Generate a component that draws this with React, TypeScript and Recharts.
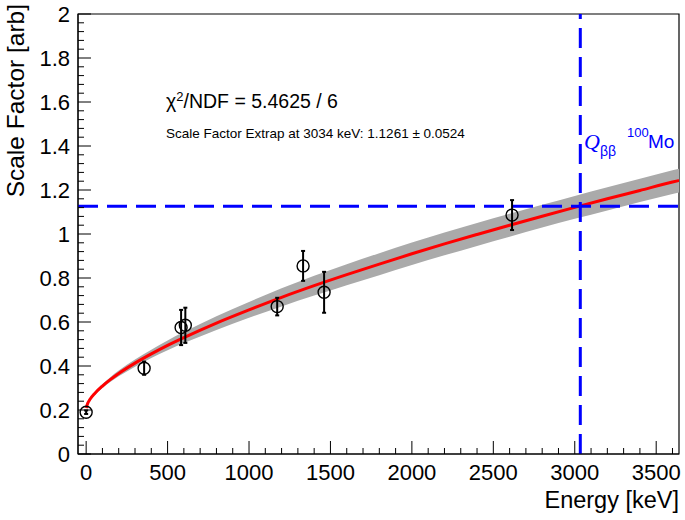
import {
  Area,
  ComposedChart,
  ErrorBar,
  Line,
  ReferenceArea,
  ReferenceLine,
  Scatter,
  XAxis,
  YAxis,
} from "recharts";

// fit curve (energy in keV)
const fitEnergy = [0, 10, 25, 50, 100, 150, 200, 300, 400, 500, 600, 800, 1000, 1200, 1400, 1600, 1800, 2000, 2200, 2400, 2600, 2800, 3000, 3200, 3400, 3600, 3640];
const fitValue = [0.209, 0.231, 0.25, 0.273, 0.309, 0.339, 0.366, 0.413, 0.455, 0.494, 0.529, 0.595, 0.655, 0.712, 0.765, 0.815, 0.863, 0.91, 0.955, 0.998, 1.04, 1.081, 1.121, 1.16, 1.198, 1.236, 1.243];
const bandHalf = [0.002, 0.003, 0.005, 0.007, 0.009, 0.011, 0.013, 0.016, 0.019, 0.022, 0.025, 0.031, 0.036, 0.041, 0.045, 0.048, 0.05, 0.051, 0.052, 0.052, 0.052, 0.052, 0.052, 0.053, 0.053, 0.054, 0.054];

// calibration points
const pointEnergy = [0, 356, 583, 609, 1173, 1332, 1461, 2615];
const pointValue = [0.19, 0.39, 0.575, 0.585, 0.67, 0.855, 0.735, 1.086];
const pointError = [0.008, 0.03, 0.08, 0.08, 0.04, 0.068, 0.093, 0.068];

const qbb = 3034;
const extrap = 1.1261;

const xMajor = [0, 500, 1000, 1500, 2000, 2500, 3000, 3500];
const yMajor = [0, 0.2, 0.4, 0.6, 0.8, 1, 1.2, 1.4, 1.6, 1.8, 2];

const xTicks = Array.from({ length: 37 }, (_, i) => i * 100);
const yTicks = Array.from({ length: 51 }, (_, i) => Math.round(i * 4) / 100);

const W = 685;
const H = 520;
const LEFT = 78;
const TOP = 14;
const RIGHT = 679;
const BOTTOM = 454;
const FONT = "'Liberation Sans', Arial, Helvetica, sans-serif";

const fitData = fitEnergy.map((e, i) => ({
  E: e,
  fit: fitValue[i],
  band: [fitValue[i] - bandHalf[i], fitValue[i] + bandHalf[i]],
}));

const points = pointEnergy.map((e, i) => ({
  E: e,
  y: pointValue[i],
  err: pointError[i],
}));

function XTick({ x, payload }: any) {
  const major = xMajor.includes(payload.value);
  return (
    <g>
      <line x1={x} x2={x} y1={BOTTOM} y2={BOTTOM - (major ? 13 : 6)} stroke="#000" />
      {major ? (
        <text x={x} y={BOTTOM + 26} textAnchor="middle" fontSize={22} fontFamily={FONT} fill="#000">
          {payload.value}
        </text>
      ) : null}
    </g>
  );
}

function YTick({ y, payload }: any) {
  const v = Number(payload.value.toFixed(2));
  const major = yMajor.includes(v);
  return (
    <g>
      <line x1={LEFT} x2={LEFT + (major ? 13 : 6)} y1={y} y2={y} stroke="#000" />
      {major ? (
        <text x={70} y={y} dy="0.36em" textAnchor="end" fontSize={22} fontFamily={FONT} fill="#000">
          {String(v)}
        </text>
      ) : null}
    </g>
  );
}

function OpenCircle({ cx, cy }: any) {
  return <circle cx={cx} cy={cy} r={6} fill="none" stroke="#000" strokeWidth={1.4} />;
}

export default function App() {
  return (
    <div style={{ position: "absolute", left: 0, top: 0, width: W, height: H, background: "#fff" }}>
      <ComposedChart
        width={W}
        height={H}
        data={fitData}
        margin={{ top: TOP, right: W - RIGHT, left: 0, bottom: 0 }}
      >
        <XAxis
          type="number"
          dataKey="E"
          domain={[-50, 3640]}
          ticks={xTicks}
          interval={0}
          tick={<XTick />}
          tickLine={false}
          axisLine={{ stroke: "#000" }}
          height={H - BOTTOM}
          allowDataOverflow
        />
        <YAxis
          type="number"
          domain={[0, 2]}
          ticks={yTicks}
          interval={0}
          tick={<YTick />}
          tickLine={false}
          axisLine={{ stroke: "#000" }}
          width={LEFT}
          allowDataOverflow
        />
        <ReferenceArea x1={-50} x2={3640} y1={0} y2={2} fill="none" stroke="#000" strokeWidth={1.2} />
        <Area
          dataKey="band"
          type="monotone"
          stroke="none"
          fill="#aaaaaa"
          fillOpacity={1}
          isAnimationActive={false}
        />
        <Line
          dataKey="fit"
          type="monotone"
          stroke="#ff0000"
          strokeWidth={3}
          dot={false}
          isAnimationActive={false}
        />
        <ReferenceLine y={extrap} stroke="#0000ff" strokeWidth={3} strokeDasharray="20 9" />
        <ReferenceLine x={qbb} stroke="#0000ff" strokeWidth={3} strokeDasharray="20 9" />
        <Scatter data={points} dataKey="y" shape={<OpenCircle />} isAnimationActive={false}>
          <ErrorBar dataKey="err" direction="y" width={2} stroke="#000" strokeWidth={2} isAnimationActive={false} />
        </Scatter>
      </ComposedChart>
      <svg
        width={W}
        height={H}
        style={{ position: "absolute", left: 0, top: 0, pointerEvents: "none" }}
        fontFamily={FONT}
      >
        <text x={166} y={108} fontSize={19.5} fill="#000">
          χ<tspan fontSize={13} dy={-7}>2</tspan>
          <tspan dy={7}>/NDF = 5.4625 / 6</tspan>
        </text>
        <text x={166} y={138} fontSize={13.5} fill="#000">
          Scale Factor Extrap at 3034 keV: 1.1261 ± 0.0524
        </text>
        <text x={584} y={149} fontSize={22} fill="#0000ff" fontStyle="italic" fontFamily="'Liberation Serif', serif">
          Q
        </text>
        <text x={600} y={156} fontSize={14} fill="#0000ff">
          ββ
        </text>
        <text x={627} y={137} fontSize={13} fill="#0000ff">
          100
        </text>
        <text x={648} y={148} fontSize={19} fill="#0000ff">
          Mo
        </text>
        <text x={RIGHT} y={508} textAnchor="end" fontSize={23.5} fill="#000">
          Energy [keV]
        </text>
        <text x={24} y={4} textAnchor="end" fontSize={24.5} fill="#000" transform="rotate(-90 24 4)">
          Scale Factor [arb]
        </text>
      </svg>
    </div>
  );
}
